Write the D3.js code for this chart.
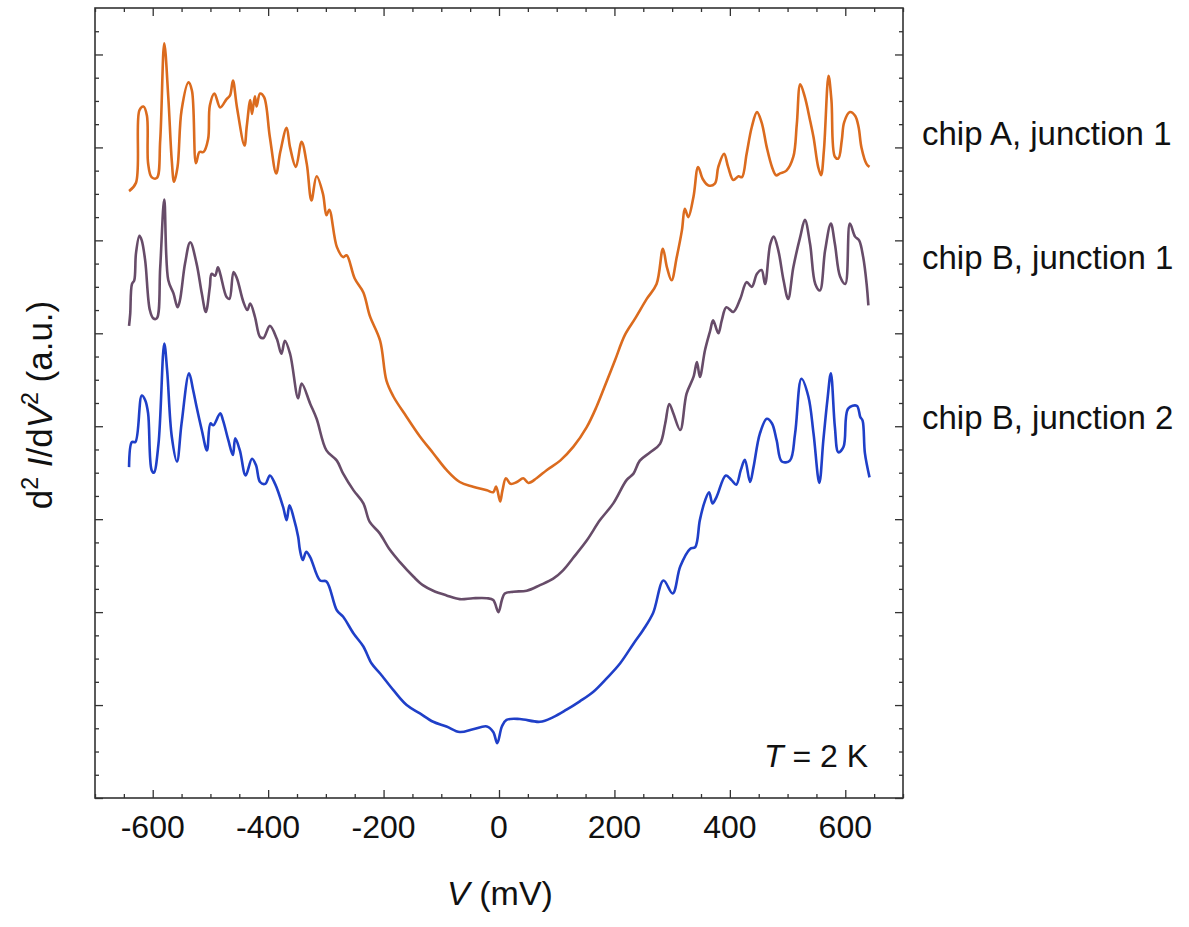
<!DOCTYPE html>
<html>
<head>
<meta charset="utf-8">
<script src="https://cdn.jsdelivr.net/npm/d3@7"></script>
<style>
  html, body { margin: 0; padding: 0; background: #fff; }
  svg { display: block; }
  text { font-family: "Liberation Sans", Arial, sans-serif; fill: #111; }
</style>
</head>
<body>
<svg id="chart" width="1189" height="927"></svg>
<script>
// ---- data (V in mV, signal in arbitrary units, curves offset as in the figure) ----
const seriesNames = ["chip A, junction 1", "chip B, junction 1", "chip B, junction 2"];
const seriesColors = ["#DB6B1E", "#674C69", "#1F3FC8"];

const chipA_J1 = [
  [-641,6.53],[-629,6.62],[-623,7.40],[-616,7.44],[-610,7.34],[-608,6.83],[-602,6.68],[-593,6.67],
  [-587,7.08],[-580,8.12],[-573,7.54],[-567,6.86],[-563,6.63],[-557,6.79],[-550,7.40],[-538,7.70],
  [-532,7.61],[-525,6.83],[-519,6.95],[-512,6.95],[-504,7.09],[-501,7.45],[-493,7.58],[-483,7.43],
  [-472,7.52],[-466,7.56],[-461,7.72],[-454,7.43],[-441,7.02],[-437,7.23],[-431,7.51],[-428,7.36],
  [-423,7.55],[-420,7.44],[-414,7.58],[-407,7.54],[-397,7.11],[-386,6.72],[-379,6.95],[-368,7.21],
  [-362,7.00],[-352,6.79],[-342,7.06],[-333,6.82],[-325,6.43],[-316,6.69],[-305,6.50],[-299,6.27],
  [-294,6.33],[-281,5.93],[-270,5.82],[-264,5.84],[-250,5.59],[-235,5.44],[-224,5.19],[-206,4.92],
  [-195,4.49],[-183,4.32],[-160,4.10],[-137,3.89],[-114,3.71],[-91,3.53],[-68,3.40],[-45,3.35],
  [-21,3.31],[-10,3.29],[-5,3.35],[2,3.19],[6,3.31],[12,3.44],[20,3.38],[31,3.40],[42,3.44],
  [51,3.39],[65,3.44],[83,3.53],[106,3.63],[129,3.78],[152,3.99],[169,4.21],[187,4.49],[201,4.71],
  [218,4.98],[236,5.16],[256,5.37],[273,5.53],[284,5.91],[291,5.71],[299,5.57],[308,5.82],[317,6.11],
  [322,6.34],[328,6.25],[337,6.47],[345,6.79],[353,6.66],[363,6.59],[374,6.61],[380,6.79],[390,6.93],
  [397,6.79],[406,6.65],[415,6.69],[421,6.68],[429,6.93],[438,7.22],[447,7.38],[455,7.27],[464,7.00],
  [473,6.79],[480,6.70],[487,6.72],[498,6.75],[510,6.90],[516,7.25],[522,7.68],[530,7.54],[539,7.29],
  [545,7.11],[553,6.79],[558,6.70],[563,6.97],[571,7.77],[576,7.51],[582,6.90],[588,6.88],[594,7.08],
  [598,7.27],[608,7.38],[617,7.34],[623,7.22],[628,7.00],[637,6.82],[642,6.79]
];

const chipB_J1 = [
  [-641,5.08],[-639,5.21],[-636,5.53],[-632,5.57],[-629,5.86],[-623,6.05],[-619,6.00],[-613,5.78],
  [-605,5.25],[-599,5.16],[-593,5.16],[-587,5.71],[-580,6.44],[-573,5.57],[-564,5.43],[-557,5.28],
  [-553,5.35],[-544,5.75],[-535,5.98],[-524,5.75],[-515,5.43],[-508,5.23],[-501,5.50],[-498,5.64],
  [-492,5.62],[-487,5.71],[-483,5.64],[-472,5.39],[-467,5.37],[-460,5.66],[-454,5.59],[-443,5.34],
  [-436,5.25],[-431,5.32],[-423,5.18],[-414,4.96],[-408,4.95],[-397,5.08],[-385,4.94],[-377,4.78],
  [-371,4.92],[-362,4.78],[-348,4.30],[-342,4.46],[-327,4.24],[-316,4.08],[-299,3.74],[-281,3.63],
  [-270,3.49],[-252,3.31],[-235,3.17],[-224,2.97],[-207,2.85],[-189,2.67],[-172,2.54],[-148,2.38],
  [-132,2.29],[-114,2.23],[-91,2.18],[-68,2.14],[-45,2.15],[-21,2.15],[-10,2.13],[-1,2.00],[5,2.13],
  [10,2.20],[25,2.22],[48,2.23],[71,2.29],[94,2.36],[111,2.45],[128,2.58],[152,2.77],[175,2.99],
  [198,3.17],[221,3.42],[233,3.49],[244,3.63],[262,3.72],[279,3.81],[288,4.03],[295,4.24],[302,4.14],
  [314,3.96],[325,4.35],[337,4.53],[343,4.69],[348,4.53],[357,4.82],[366,5.03],[371,5.14],[380,5.00],
  [386,5.14],[394,5.28],[406,5.23],[418,5.37],[429,5.55],[438,5.50],[447,5.64],[455,5.68],[461,5.53],
  [470,5.96],[476,6.04],[484,5.89],[493,5.57],[501,5.37],[510,5.71],[522,6.04],[530,6.22],[539,5.96],
  [548,5.53],[556,5.46],[565,5.89],[575,6.18],[582,5.96],[591,5.61],[600,5.53],[608,6.18],[617,6.04],
  [624,6.00],[631,5.82],[637,5.53],[640,5.30]
];

const chipB_J2 = [
  [-641,3.56],[-636,3.83],[-630,3.83],[-619,4.33],[-613,4.28],[-608,4.14],[-602,3.53],[-598,3.50],
  [-590,3.81],[-580,4.89],[-575,4.60],[-567,3.89],[-558,3.62],[-550,4.03],[-537,4.57],[-530,4.39],
  [-524,4.21],[-515,3.96],[-506,3.74],[-500,4.03],[-495,4.01],[-483,4.14],[-478,4.06],[-469,3.85],
  [-461,3.69],[-457,3.87],[-449,3.74],[-439,3.47],[-428,3.65],[-421,3.58],[-414,3.40],[-405,3.38],
  [-397,3.47],[-388,3.38],[-374,3.13],[-368,2.99],[-363,3.15],[-356,3.02],[-348,2.81],[-345,2.67],
  [-340,2.56],[-334,2.65],[-327,2.59],[-310,2.34],[-299,2.33],[-281,2.02],[-270,1.95],[-252,1.77],
  [-235,1.63],[-221,1.45],[-206,1.34],[-183,1.16],[-160,1.00],[-137,0.91],[-114,0.82],[-91,0.77],
  [-68,0.71],[-45,0.74],[-21,0.77],[-10,0.71],[-3,0.59],[5,0.77],[13,0.84],[36,0.85],[71,0.82],
  [94,0.87],[117,0.95],[140,1.04],[163,1.14],[187,1.29],[210,1.45],[233,1.66],[250,1.81],[267,1.99],
  [285,2.34],[301,2.20],[314,2.49],[331,2.68],[340,2.70],[348,2.99],[357,3.20],[364,3.29],[370,3.17],
  [377,3.24],[393,3.47],[403,3.42],[411,3.37],[419,3.53],[426,3.64],[435,3.40],[441,3.56],[452,3.92],
  [464,4.08],[473,4.03],[481,3.85],[490,3.62],[504,3.63],[513,3.92],[524,4.51],[536,4.32],[545,3.92],
  [555,3.39],[562,3.85],[569,4.28],[575,4.57],[582,3.99],[588,3.72],[597,3.78],[605,4.19],[620,4.22],
  [626,4.10],[630,4.06],[634,3.71],[642,3.45]
];

const xMajorTicks = [-600, -400, -200, 0, 200, 400, 600];
const xMinorTicks = [-700,-650,-550,-500,-450,-350,-300,-250,-150,-100,-50,50,100,150,250,300,350,450,500,550,650,700];
const yMajorTicks = [0, 1, 2, 3, 4, 5, 6, 7, 8];
const yMinorTicks = [0.25,0.5,0.75,1.25,1.5,1.75,2.25,2.5,2.75,3.25,3.5,3.75,4.25,4.5,4.75,5.25,5.5,5.75,6.25,6.5,6.75,7.25,7.5,7.75,8.25];
const xDomain = [-700, 700];
const yDomain = [0, 8.5];
const labelY = [7.15, 5.82, 4.09];   // vertical positions of the right-hand labels (data units)

// ---- layout ----
const svg = d3.select("#chart");
const L = 95, R = 903, T = 8, B = 798;
const x = d3.scaleLinear().domain(xDomain).range([L, R]);
const y = d3.scaleLinear().domain(yDomain).range([B, T]);
const axisColor = "#333";

function styleAxis(g) {
  g.select(".domain").remove();
  g.selectAll(".tick line").attr("stroke", axisColor).attr("stroke-width", 1.3);
}

// ticks (pointing inward on all four sides)
const axes = [
  [d3.axisBottom(x), `translate(0,${B})`, xMajorTicks, xMinorTicks],
  [d3.axisTop(x), `translate(0,${T})`, xMajorTicks, xMinorTicks],
  [d3.axisLeft(y), `translate(${L},0)`, yMajorTicks, yMinorTicks],
  [d3.axisRight(y), `translate(${R},0)`, yMajorTicks, yMinorTicks]
];
axes.forEach(([ax, tr, maj, min]) => {
  svg.append("g").attr("transform", tr)
    .call(ax.tickValues(maj).tickSize(-8).tickFormat(""))
    .call(styleAxis);
  svg.append("g").attr("transform", tr)
    .call(ax.tickValues(min).tickSize(-4).tickFormat(""))
    .call(styleAxis);
});

// x tick labels
svg.append("g").selectAll("text").data(xMajorTicks).join("text")
  .attr("x", d => x(d)).attr("y", 838)
  .attr("text-anchor", "middle").attr("font-size", 32)
  .text(d => d);

// frame
svg.append("rect").attr("x", L).attr("y", T).attr("width", R - L).attr("height", B - T)
  .attr("fill", "none").attr("stroke", axisColor).attr("stroke-width", 1.6);

// curves
const line = d3.line().x(d => x(d[0])).y(d => y(d[1])).curve(d3.curveCatmullRom.alpha(0.5));
const allSeries = [chipA_J1, chipB_J1, chipB_J2];
svg.append("g").selectAll("path").data(allSeries).join("path")
  .attr("d", line)
  .attr("fill", "none")
  .attr("stroke", (d, i) => seriesColors[i])
  .attr("stroke-width", 2.6)
  .attr("stroke-linejoin", "round");

// series labels
svg.append("g").selectAll("text").data(seriesNames).join("text")
  .attr("x", 922).attr("y", (d, i) => y(labelY[i]) + 11.5)
  .attr("font-size", 33)
  .text(d => d);

// T = 2 K
const tLab = svg.append("text").attr("x", 868).attr("y", 767)
  .attr("text-anchor", "end").attr("font-size", 32);
tLab.append("tspan").attr("font-style", "italic").text("T");
tLab.append("tspan").text(" = 2 K");

// x axis title
const xt = svg.append("text").attr("x", 500).attr("y", 905)
  .attr("text-anchor", "middle").attr("font-size", 34);
xt.append("tspan").attr("font-style", "italic").text("V");
xt.append("tspan").text(" (mV)");

// y axis title
const yt = svg.append("text")
  .attr("transform", "translate(52,405) rotate(-90)")
  .attr("text-anchor", "middle").attr("font-size", 35);
yt.append("tspan").text("d");
yt.append("tspan").attr("font-size", 23).attr("dy", -14).text("2");
yt.append("tspan").attr("dy", 14).text(" ");
yt.append("tspan").attr("font-style", "italic").text("I");
yt.append("tspan").text("/d");
yt.append("tspan").attr("font-style", "italic").text("V");
yt.append("tspan").attr("font-size", 23).attr("dy", -14).text("2");
yt.append("tspan").attr("dy", 14).text(" (a.u.)");
</script>
</body>
</html>
